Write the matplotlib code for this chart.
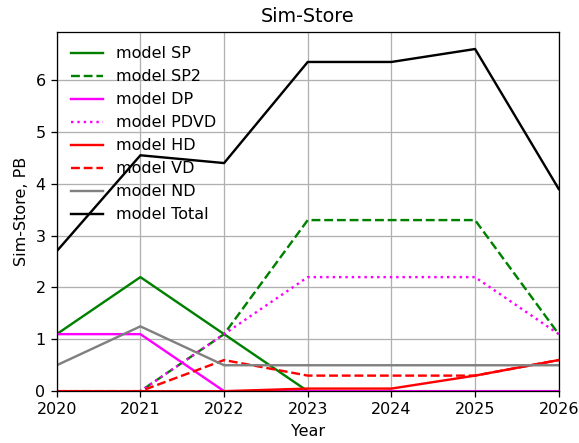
import matplotlib
matplotlib.use("Agg")
import matplotlib.pyplot as plt

# ── Data ──────────────────────────────────────────────────────────────────────
years = [2020, 2021, 2022, 2023, 2024, 2025, 2026]

sp    = [1.1, 2.2, 1.1, 0.0, 0.0, 0.0, 0.0]
sp2   = [0.0, 0.0, 1.1, 3.3, 3.3, 3.3, 1.1]
dp    = [1.1, 1.1, 0.0, 0.0, 0.0, 0.0, 0.0]
pdvd  = [0.0, 0.0, 1.1, 2.2, 2.2, 2.2, 1.1]
hd    = [0.0, 0.0, 0.0, 0.05, 0.05, 0.3, 0.6]
vd    = [0.0, 0.0, 0.6, 0.3, 0.3, 0.3, 0.6]
nd    = [0.5, 1.25, 0.5, 0.5, 0.5, 0.5, 0.5]
total = [2.7, 4.55, 4.4, 6.35, 6.35, 6.6, 3.9]

# ── Plot ──────────────────────────────────────────────────────────────────────
DPI = 115
fig, ax = plt.subplots(figsize=(579 / DPI, 443 / DPI), dpi=DPI)
fig.subplots_adjust(left=0.098, right=0.965, top=0.928, bottom=0.117)

ax.plot(years, sp,    color="green",   linestyle="-",  label="model SP")
ax.plot(years, sp2,   color="green",   linestyle="--", label="model SP2")
ax.plot(years, dp,    color="magenta", linestyle="-",  label="model DP")
ax.plot(years, pdvd,  color="magenta", linestyle=":",  label="model PDVD")
ax.plot(years, hd,    color="red",     linestyle="-",  label="model HD")
ax.plot(years, vd,    color="red",     linestyle="--", label="model VD")
ax.plot(years, nd,    color="gray",    linestyle="-",  label="model ND")
ax.plot(years, total, color="black",   linestyle="-",  label="model Total")

ax.set_xlim(2020, 2026)
ax.set_ylim(bottom=0)
ax.set_title("Sim-Store")
ax.set_xlabel("Year")
ax.set_ylabel("Sim-Store, PB")
ax.grid(True)
ax.legend(loc="upper left", frameon=False)

plt.savefig("out.png", dpi=DPI)
